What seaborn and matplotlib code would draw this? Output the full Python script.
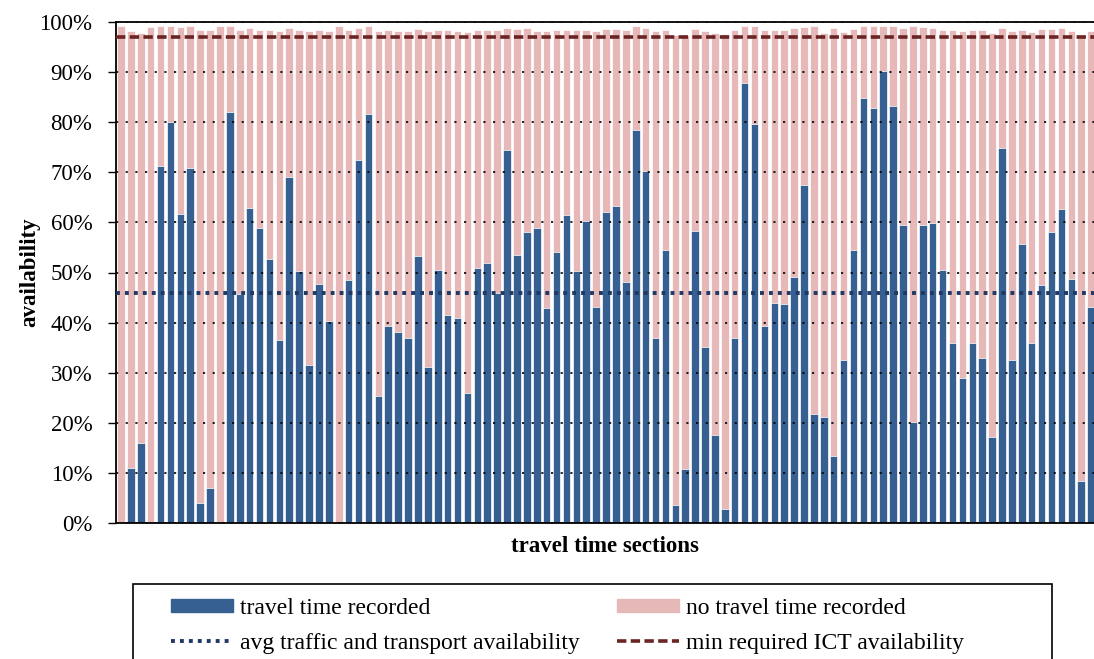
import numpy as np
import pandas as pd
import matplotlib
matplotlib.use("Agg")
import matplotlib.pyplot as plt
import matplotlib.patches as mpatches
from matplotlib.lines import Line2D
import seaborn as sns

# share of time a travel time was recorded, per section (%)
recorded = [0, 11.0, 16.0, 0, 71.3, 80.0, 61.7, 70.9, 3.9, 6.9,
            0, 82.1, 45.8, 62.9, 58.9, 52.6, 36.5, 69.1, 50.2, 31.5,
            47.8, 40.3, 0, 48.6, 72.5, 81.6, 25.4, 39.4, 38.2, 37.0,
            53.2, 31.2, 50.4, 41.5, 40.9, 26.0, 50.8, 51.9, 46.0, 74.5,
            53.5, 58.1, 58.9, 42.9, 54.0, 61.4, 50.3, 60.3, 43.1, 62.1,
            63.3, 48.1, 78.4, 70.3, 37.0, 54.4, 3.6, 10.8, 58.2, 35.1,
            17.6, 2.8, 36.9, 87.8, 79.7, 39.4, 44.0, 43.8, 49.2, 67.5,
            21.8, 21.2, 13.4, 32.6, 54.4, 84.8, 82.8, 90.2, 83.2, 59.5,
            20.2, 59.5, 59.8, 50.5, 35.9, 28.9, 35.9, 32.9, 17.2, 74.8,
            32.5, 55.7, 35.9, 47.5, 58.1, 62.7, 48.7, 8.4, 43.1]

# total ICT availability per section (%) = recorded + no travel time recorded
total = [99.3, 98.3, 97.9, 99.0, 99.2, 99.2, 99.0, 99.2, 98.5, 98.5,
         99.3, 99.2, 98.5, 98.8, 98.5, 98.5, 98.3, 98.9, 98.5, 98.3,
         98.5, 98.3, 99.3, 98.4, 98.9, 99.2, 98.3, 98.4, 98.3, 98.3,
         98.6, 98.3, 98.5, 98.5, 98.3, 98.1, 98.4, 98.5, 98.4, 98.9,
         98.6, 98.8, 98.3, 98.3, 98.5, 98.4, 98.4, 98.4, 98.3, 98.7,
         98.7, 98.5, 99.2, 98.9, 98.3, 98.5, 97.5, 97.5, 98.7, 98.3,
         97.9, 97.6, 98.4, 99.3, 99.2, 98.4, 98.4, 98.4, 98.8, 99.0,
         99.2, 97.9, 98.9, 98.0, 98.7, 99.3, 99.3, 99.3, 99.2, 98.9,
         99.2, 99.1, 98.8, 98.5, 98.4, 98.3, 98.4, 98.4, 97.9, 98.8,
         98.3, 98.5, 98.1, 98.7, 98.7, 98.8, 98.3, 97.5, 98.3]

avg_availability = 46.0   # avg traffic and transport availability
min_required = 97.0       # min required ICT availability

df = pd.DataFrame({"section": np.arange(len(recorded)),
                   "recorded": recorded,
                   "total": total})

blue = "#376092"
pink = "#e6b9b8"
navy = "#1f3864"
darkred = "#6a2424"

sns.set_style("ticks")
plt.rcParams["font.family"] = ["Liberation Serif", "DejaVu Serif"]
plt.rcParams["text.color"] = "black"
plt.rcParams["axes.labelcolor"] = "black"

fig = plt.figure(figsize=(10.94, 6.59), dpi=100)
ax = fig.add_axes([116 / 1094, 1 - 523 / 659, 1 - 116 / 1094, 501 / 659])

# pink = total availability, blue drawn on top = travel time recorded
sns.barplot(data=df, x="section", y="total", color=pink, saturation=1,
            width=0.76, errorbar=None, edgecolor="white", linewidth=0.5, ax=ax)
sns.barplot(data=df, x="section", y="recorded", color=blue, saturation=1,
            width=0.76, errorbar=None, edgecolor="white", linewidth=0.5, ax=ax)

ax.axhline(avg_availability, color=navy, lw=2.8, dashes=(1, 1.3), zorder=4)
ax.axhline(min_required, color=darkred, lw=2.6, dashes=(2.6, 1.2), zorder=4)

ax.set_xlim(-0.5, 98.29)
ax.set_ylim(0, 100)
ax.set_yticks(np.arange(0, 101, 10))
ax.set_yticklabels([f"{v}%" for v in range(0, 101, 10)], fontsize=16.5)
ax.set_xticks([])
ax.yaxis.grid(True, color="black", lw=1.2, dashes=(1.3, 4.5))
ax.set_axisbelow(False)
ax.tick_params(axis="y", direction="out", length=6, width=1, pad=11, colors="black")

for s in ["left", "bottom", "top"]:
    ax.spines[s].set_color("black")
    ax.spines[s].set_linewidth(1.3)
ax.spines["right"].set_visible(False)

ax.set_xlabel("travel time sections", fontsize=16.5, fontweight="bold", labelpad=9)
ax.set_ylabel("availability", fontsize=16.5, fontweight="bold")
ax.yaxis.set_label_coords(-0.077, 0.5)

# legend with a box that runs off the bottom of the picture
fig.patches.append(mpatches.Rectangle((133 / 1094, -0.05), (1052 - 133) / 1094,
                                      0.05 + 1 - 584 / 659, transform=fig.transFigure,
                                      fill=False, edgecolor="black", lw=1.2))
handles = [mpatches.Patch(color=blue),
           Line2D([], [], color=navy, lw=2.8, dashes=(1, 1.3)),
           mpatches.Patch(color=pink),
           Line2D([], [], color=darkred, lw=2.6, dashes=(2.6, 1.2))]
labels = ["travel time recorded", "avg traffic and transport availability",
          "no travel time recorded", "min required ICT availability"]
fig.legend(handles, labels, loc="upper left", bbox_to_anchor=(159 / 1094, 1 - 586 / 659),
           ncol=2, frameon=False, fontsize=17, borderpad=0, handlelength=2.65,
           handleheight=0.5, handletextpad=0.3, labelspacing=0.6, columnspacing=1.55)

fig.savefig("out.png", dpi=100)
